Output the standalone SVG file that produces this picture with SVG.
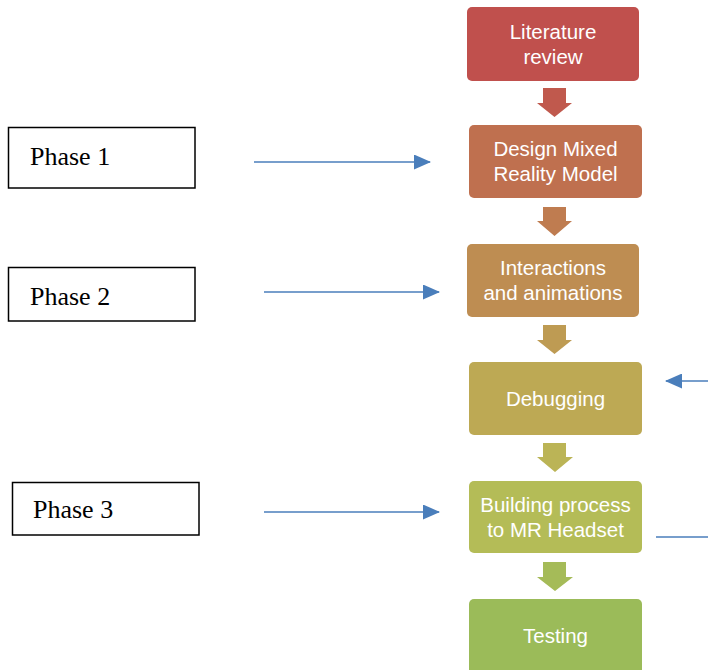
<svg xmlns="http://www.w3.org/2000/svg" width="708" height="670" viewBox="0 0 708 670">
<style>
.step text{font-family:"Liberation Sans",Arial,sans-serif;font-size:20.5px;fill:#fff;text-anchor:middle}
.phase rect{fill:#fff;stroke:#000;stroke-width:1.5}
.phase text{font-family:"Liberation Serif","Times New Roman",serif;font-size:26px;fill:#000}
.conn line{stroke:#4A7EBB;stroke-width:1.6}
</style>
<defs>
<marker id="ah" markerUnits="userSpaceOnUse" markerWidth="17" markerHeight="15" refX="16" refY="7.5" orient="auto">
<path d="M0,0 L17,7.5 L0,15 Z" fill="#4A7EBB"/>
</marker>
</defs>
<rect width="708" height="670" fill="#fff"/>
<g id="n1" class="step"><rect x="467" y="7" width="172" height="74" rx="5" fill="#C0504D"/><text x="553" y="38.5">Literature</text><text x="553" y="63.5">review</text></g>
<g id="n2" class="step"><rect x="469" y="125" width="173" height="73" rx="5" fill="#BF704F"/><text x="555.5" y="156">Design Mixed</text><text x="555.5" y="181">Reality Model</text></g>
<g id="n3" class="step"><rect x="467" y="244" width="172" height="73" rx="5" fill="#BE8D52"/><text x="553" y="275">Interactions</text><text x="553" y="300">and animations</text></g>
<g id="n4" class="step"><rect x="469" y="362" width="173" height="73" rx="5" fill="#BDA954"/><text x="555.5" y="405.5">Debugging</text></g>
<g id="n5" class="step"><rect x="469" y="481" width="173" height="72" rx="5" fill="#B4BC57"/><text x="555.5" y="511.5">Building process</text><text x="555.5" y="536.5">to MR Headset</text></g>
<g id="n6" class="step"><rect x="469" y="599" width="173" height="76" rx="5" fill="#9BBB59"/><text x="555.5" y="643">Testing</text></g>
<g id="p1" class="phase"><rect x="8.5" y="127.5" width="186.5" height="60.5"/><text x="30" y="165">Phase 1</text></g>
<g id="p2" class="phase"><rect x="8.5" y="267.5" width="186.5" height="53.5"/><text x="30" y="305">Phase 2</text></g>
<g id="p3" class="phase"><rect x="12.5" y="482.5" width="186.5" height="52.5"/><text x="33" y="518">Phase 3</text></g>
<g id="connectors">
<g id="blockarrows">
<path d="M543,88 H566 V103 H572 L554.5,117 L537,103 H543 Z" fill="#C0594D"/>
<path d="M543,207 H566 V221 H572 L554.5,236 L537,221 H543 Z" fill="#BF7C50"/>
<path d="M543,325 H566 V340 H572 L554.5,354 L537,340 H543 Z" fill="#BE9B53"/>
<path d="M543,443 H566 V457 H573 L555,472 L537,457 H543 Z" fill="#BBB456"/>
<path d="M543,562 H566 V577 H573 L555,591 L537,577 H543 Z" fill="#A5BB58"/>
</g>
<g class="conn">
<line x1="254" y1="162" x2="430" y2="162" marker-end="url(#ah)"/>
<line x1="264" y1="292" x2="439" y2="292" marker-end="url(#ah)"/>
<line x1="264" y1="512" x2="439" y2="512" marker-end="url(#ah)"/>
<line x1="710" y1="381" x2="666" y2="381" marker-end="url(#ah)"/>
<line x1="656" y1="537" x2="710" y2="537"/>
</g>
</g>
</svg>
